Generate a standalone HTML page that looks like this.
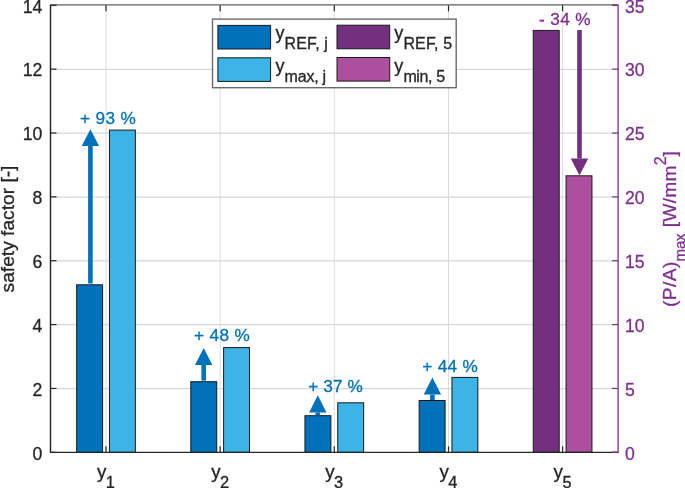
<!DOCTYPE html>
<html><head><meta charset="utf-8"><title>chart</title>
<style>html,body{margin:0;padding:0;background:#fff;}svg{will-change:transform;}text{stroke-width:0.3px;}body{width:685px;height:488px;overflow:hidden;font-family:"Liberation Sans",sans-serif;}</style>
</head><body>
<svg width="685" height="488" viewBox="0 0 685 488" style="display:block">
<rect x="0" y="0" width="685" height="488" fill="#ffffff"/>
<line x1="106.0" y1="5.3" x2="106.0" y2="452.3" stroke="#DADCDB" stroke-width="1"/>
<line x1="220.15" y1="5.3" x2="220.15" y2="452.3" stroke="#DADCDB" stroke-width="1"/>
<line x1="334.3" y1="5.3" x2="334.3" y2="452.3" stroke="#DADCDB" stroke-width="1"/>
<line x1="448.5" y1="5.3" x2="448.5" y2="452.3" stroke="#DADCDB" stroke-width="1"/>
<line x1="562.6" y1="5.3" x2="562.6" y2="452.3" stroke="#DADCDB" stroke-width="1"/>
<line x1="50.5" y1="388.59" x2="618.1" y2="388.59" stroke="#D6D9D8" stroke-width="1.25"/>
<line x1="50.5" y1="324.74" x2="618.1" y2="324.74" stroke="#D6D9D8" stroke-width="1.25"/>
<line x1="50.5" y1="260.88" x2="618.1" y2="260.88" stroke="#D6D9D8" stroke-width="1.25"/>
<line x1="50.5" y1="197.02" x2="618.1" y2="197.02" stroke="#D6D9D8" stroke-width="1.25"/>
<line x1="50.5" y1="133.16" x2="618.1" y2="133.16" stroke="#D6D9D8" stroke-width="1.25"/>
<line x1="50.5" y1="69.31" x2="618.1" y2="69.31" stroke="#D6D9D8" stroke-width="1.25"/>
<rect x="76.65" y="284.80" width="25.95" height="167.50" fill="#0071BA" stroke="#1a1a1a" stroke-width="1"/>
<rect x="109.45" y="130.10" width="25.90" height="322.20" fill="#3CB4E6" stroke="#1a1a1a" stroke-width="1"/>
<rect x="190.80" y="381.70" width="25.95" height="70.60" fill="#0071BA" stroke="#1a1a1a" stroke-width="1"/>
<rect x="223.60" y="347.60" width="25.90" height="104.70" fill="#3CB4E6" stroke="#1a1a1a" stroke-width="1"/>
<rect x="304.95" y="415.70" width="25.95" height="36.60" fill="#0071BA" stroke="#1a1a1a" stroke-width="1"/>
<rect x="337.75" y="402.80" width="25.90" height="49.50" fill="#3CB4E6" stroke="#1a1a1a" stroke-width="1"/>
<rect x="419.15" y="400.50" width="25.95" height="51.80" fill="#0071BA" stroke="#1a1a1a" stroke-width="1"/>
<rect x="451.95" y="377.40" width="25.90" height="74.90" fill="#3CB4E6" stroke="#1a1a1a" stroke-width="1"/>
<rect x="533.25" y="30.40" width="25.95" height="421.90" fill="#72307E" stroke="#1a1a1a" stroke-width="1"/>
<rect x="566.05" y="175.80" width="25.90" height="276.50" fill="#AC4F9E" stroke="#1a1a1a" stroke-width="1"/>
<line x1="50.5" y1="4.85" x2="618.1" y2="4.85" stroke="#5e5e5e" stroke-width="1.3"/>
<line x1="50.0" y1="452.3" x2="618.1" y2="452.3" stroke="#262626" stroke-width="1.3"/>
<line x1="50.5" y1="4.8" x2="50.5" y2="452.8" stroke="#262626" stroke-width="1.45"/>
<line x1="618.1" y1="4.8" x2="618.1" y2="452.90000000000003" stroke="#7E2F8E" stroke-width="1.3"/>
<line x1="612.1" y1="5.3" x2="618.1" y2="5.3" stroke="#7E2F8E" stroke-width="1.2"/>
<line x1="612.1" y1="452.3" x2="618.1" y2="452.3" stroke="#7E2F8E" stroke-width="1.3"/>
<line x1="50.5" y1="452.30" x2="56.5" y2="452.30" stroke="#262626" stroke-width="1.2"/>
<text x="42.3" y="459.60" text-anchor="end" font-family="Liberation Sans, sans-serif" font-size="17.6" fill="#262626" stroke="#262626">0</text>
<line x1="50.5" y1="388.44" x2="56.5" y2="388.44" stroke="#262626" stroke-width="1.2"/>
<text x="42.3" y="395.74" text-anchor="end" font-family="Liberation Sans, sans-serif" font-size="17.6" fill="#262626" stroke="#262626">2</text>
<line x1="50.5" y1="324.59" x2="56.5" y2="324.59" stroke="#262626" stroke-width="1.2"/>
<text x="42.3" y="331.89" text-anchor="end" font-family="Liberation Sans, sans-serif" font-size="17.6" fill="#262626" stroke="#262626">4</text>
<line x1="50.5" y1="260.73" x2="56.5" y2="260.73" stroke="#262626" stroke-width="1.2"/>
<text x="42.3" y="268.03" text-anchor="end" font-family="Liberation Sans, sans-serif" font-size="17.6" fill="#262626" stroke="#262626">6</text>
<line x1="50.5" y1="196.87" x2="56.5" y2="196.87" stroke="#262626" stroke-width="1.2"/>
<text x="42.3" y="204.17" text-anchor="end" font-family="Liberation Sans, sans-serif" font-size="17.6" fill="#262626" stroke="#262626">8</text>
<line x1="50.5" y1="133.01" x2="56.5" y2="133.01" stroke="#262626" stroke-width="1.2"/>
<text x="42.3" y="140.31" text-anchor="end" font-family="Liberation Sans, sans-serif" font-size="17.6" fill="#262626" stroke="#262626">10</text>
<line x1="50.5" y1="69.16" x2="56.5" y2="69.16" stroke="#262626" stroke-width="1.2"/>
<text x="42.3" y="76.46" text-anchor="end" font-family="Liberation Sans, sans-serif" font-size="17.6" fill="#262626" stroke="#262626">12</text>
<line x1="50.5" y1="5.30" x2="56.5" y2="5.30" stroke="#262626" stroke-width="1.2"/>
<text x="42.3" y="12.60" text-anchor="end" font-family="Liberation Sans, sans-serif" font-size="17.6" fill="#262626" stroke="#262626">14</text>
<line x1="612.1" y1="452.30" x2="618.1" y2="452.30" stroke="#7E2F8E" stroke-width="1.2"/>
<text x="625" y="459.60" text-anchor="start" font-family="Liberation Sans, sans-serif" font-size="17.6" fill="#7E2F8E" stroke="#7E2F8E">0</text>
<line x1="612.1" y1="388.44" x2="618.1" y2="388.44" stroke="#7E2F8E" stroke-width="1.2"/>
<text x="625" y="395.74" text-anchor="start" font-family="Liberation Sans, sans-serif" font-size="17.6" fill="#7E2F8E" stroke="#7E2F8E">5</text>
<line x1="612.1" y1="324.59" x2="618.1" y2="324.59" stroke="#7E2F8E" stroke-width="1.2"/>
<text x="625" y="331.89" text-anchor="start" font-family="Liberation Sans, sans-serif" font-size="17.6" fill="#7E2F8E" stroke="#7E2F8E">10</text>
<line x1="612.1" y1="260.73" x2="618.1" y2="260.73" stroke="#7E2F8E" stroke-width="1.2"/>
<text x="625" y="268.03" text-anchor="start" font-family="Liberation Sans, sans-serif" font-size="17.6" fill="#7E2F8E" stroke="#7E2F8E">15</text>
<line x1="612.1" y1="196.87" x2="618.1" y2="196.87" stroke="#7E2F8E" stroke-width="1.2"/>
<text x="625" y="204.17" text-anchor="start" font-family="Liberation Sans, sans-serif" font-size="17.6" fill="#7E2F8E" stroke="#7E2F8E">20</text>
<line x1="612.1" y1="133.01" x2="618.1" y2="133.01" stroke="#7E2F8E" stroke-width="1.2"/>
<text x="625" y="140.31" text-anchor="start" font-family="Liberation Sans, sans-serif" font-size="17.6" fill="#7E2F8E" stroke="#7E2F8E">25</text>
<line x1="612.1" y1="69.16" x2="618.1" y2="69.16" stroke="#7E2F8E" stroke-width="1.2"/>
<text x="625" y="76.46" text-anchor="start" font-family="Liberation Sans, sans-serif" font-size="17.6" fill="#7E2F8E" stroke="#7E2F8E">30</text>
<line x1="612.1" y1="5.30" x2="618.1" y2="5.30" stroke="#7E2F8E" stroke-width="1.2"/>
<text x="625" y="12.60" text-anchor="start" font-family="Liberation Sans, sans-serif" font-size="17.6" fill="#7E2F8E" stroke="#7E2F8E">35</text>
<line x1="106.0" y1="452.3" x2="106.0" y2="446.3" stroke="#262626" stroke-width="1.2"/>
<line x1="106.0" y1="5.3" x2="106.0" y2="11.3" stroke="#262626" stroke-width="1.2"/>
<text x="97.00" y="477.6" font-family="Liberation Sans, sans-serif" font-size="18.8" fill="#262626" stroke="#262626">y<tspan font-size="16.4" dx="-0.6" dy="10.5">1</tspan></text>
<line x1="220.15" y1="452.3" x2="220.15" y2="446.3" stroke="#262626" stroke-width="1.2"/>
<line x1="220.15" y1="5.3" x2="220.15" y2="11.3" stroke="#262626" stroke-width="1.2"/>
<text x="211.15" y="477.6" font-family="Liberation Sans, sans-serif" font-size="18.8" fill="#262626" stroke="#262626">y<tspan font-size="16.4" dx="-0.6" dy="10.5">2</tspan></text>
<line x1="334.3" y1="452.3" x2="334.3" y2="446.3" stroke="#262626" stroke-width="1.2"/>
<line x1="334.3" y1="5.3" x2="334.3" y2="11.3" stroke="#262626" stroke-width="1.2"/>
<text x="325.30" y="477.6" font-family="Liberation Sans, sans-serif" font-size="18.8" fill="#262626" stroke="#262626">y<tspan font-size="16.4" dx="-0.6" dy="10.5">3</tspan></text>
<line x1="448.5" y1="452.3" x2="448.5" y2="446.3" stroke="#262626" stroke-width="1.2"/>
<line x1="448.5" y1="5.3" x2="448.5" y2="11.3" stroke="#262626" stroke-width="1.2"/>
<text x="439.50" y="477.6" font-family="Liberation Sans, sans-serif" font-size="18.8" fill="#262626" stroke="#262626">y<tspan font-size="16.4" dx="-0.6" dy="10.5">4</tspan></text>
<line x1="562.6" y1="452.3" x2="562.6" y2="446.3" stroke="#262626" stroke-width="1.2"/>
<line x1="562.6" y1="5.3" x2="562.6" y2="11.3" stroke="#262626" stroke-width="1.2"/>
<text x="553.60" y="477.6" font-family="Liberation Sans, sans-serif" font-size="18.8" fill="#262626" stroke="#262626">y<tspan font-size="16.4" dx="-0.6" dy="10.5">5</tspan></text>
<rect x="88.10" y="146.00" width="4.6" height="137.50" fill="#0071BA"/>
<polygon points="81.70,146.00 99.10,146.00 90.40,129.20" fill="#0071BA"/>
<rect x="201.40" y="364.90" width="4.6" height="15.70" fill="#0071BA"/>
<polygon points="195.00,364.90 212.40,364.90 203.70,348.00" fill="#0071BA"/>
<rect x="315.50" y="412.40" width="4.6" height="2.80" fill="#0071BA"/>
<polygon points="309.10,412.40 326.50,412.40 317.80,395.30" fill="#0071BA"/>
<rect x="430.10" y="394.60" width="4.6" height="5.40" fill="#0071BA"/>
<polygon points="423.70,394.60 441.10,394.60 432.40,377.40" fill="#0071BA"/>
<rect x="577.20" y="30.00" width="4.6" height="128.50" fill="#72307E"/>
<polygon points="570.80,158.50 588.20,158.50 579.50,175.40" fill="#72307E"/>
<text x="80.0" y="124.2" font-family="Liberation Sans, sans-serif" font-size="17.2" letter-spacing="0.38" fill="#0071BA" stroke="#0071BA" xml:space="preserve">+ 93 %</text>
<text x="194.0" y="341.2" font-family="Liberation Sans, sans-serif" font-size="17.2" letter-spacing="0.38" fill="#0071BA" stroke="#0071BA" xml:space="preserve">+ 48 %</text>
<text x="308.3" y="392.2" font-family="Liberation Sans, sans-serif" font-size="17.2" letter-spacing="0.08" fill="#0071BA" stroke="#0071BA" xml:space="preserve">+ 37 %</text>
<text x="422.3" y="371.7" font-family="Liberation Sans, sans-serif" font-size="17.2" letter-spacing="0.3" fill="#0071BA" stroke="#0071BA" xml:space="preserve">+ 44 %</text>
<text x="539.0" y="25.2" font-family="Liberation Sans, sans-serif" font-size="17.2" letter-spacing="0.38" fill="#7E2F8E" stroke="#7E2F8E" xml:space="preserve">- 34 %</text>
<rect x="212.5" y="19.1" width="243.7" height="68.6" fill="#ffffff" stroke="#6a6a6a" stroke-width="1.4"/>
<rect x="217.9" y="25.4" width="52.7" height="23.6" fill="#0071BA" stroke="#1a1a1a" stroke-width="1"/>
<rect x="217.9" y="57.8" width="52.7" height="23.6" fill="#3CB4E6" stroke="#1a1a1a" stroke-width="1"/>
<rect x="337.0" y="25.2" width="52.7" height="23.6" fill="#72307E" stroke="#1a1a1a" stroke-width="1"/>
<rect x="337.0" y="57.5" width="52.7" height="23.6" fill="#AC4F9E" stroke="#1a1a1a" stroke-width="1"/>
<text x="275.4" y="39.3" font-family="Liberation Sans, sans-serif" font-size="18" fill="#262626" stroke="#262626">y<tspan font-size="16" dx="0.2" dy="9.5" letter-spacing="0.12">REF, j</tspan></text>
<text x="275.4" y="72.2" font-family="Liberation Sans, sans-serif" font-size="18" fill="#262626" stroke="#262626">y<tspan font-size="16" dx="0.2" dy="9.5" letter-spacing="-0.22">max, j</tspan></text>
<text x="394.2" y="39.3" font-family="Liberation Sans, sans-serif" font-size="18" fill="#262626" stroke="#262626">y<tspan font-size="16" dx="0.2" dy="9.5" letter-spacing="0.15">REF, 5</tspan></text>
<text x="394.2" y="72.2" font-family="Liberation Sans, sans-serif" font-size="18" fill="#262626" stroke="#262626">y<tspan font-size="16" dx="0.2" dy="9.5" letter-spacing="-0.35">min, 5</tspan></text>
<text transform="translate(14.2,229) rotate(-90)" text-anchor="middle" font-family="Liberation Sans, sans-serif" font-size="19.2" fill="#262626" stroke="#262626">safety factor [-]</text>
<text transform="translate(676,307) rotate(-90)" text-anchor="start" font-family="Liberation Sans, sans-serif" font-size="19.2" fill="#7E2F8E" stroke="#7E2F8E"><tspan x="0" letter-spacing="0.4">(P/A)</tspan><tspan x="45.6" font-size="15" dy="9.2" letter-spacing="-0.2">max</tspan><tspan x="79.7" dy="-9.2" letter-spacing="0.25">[W/mm</tspan><tspan font-size="16" dy="-10.5">2</tspan><tspan dy="10.5">]</tspan></text>
</svg>
</body></html>
